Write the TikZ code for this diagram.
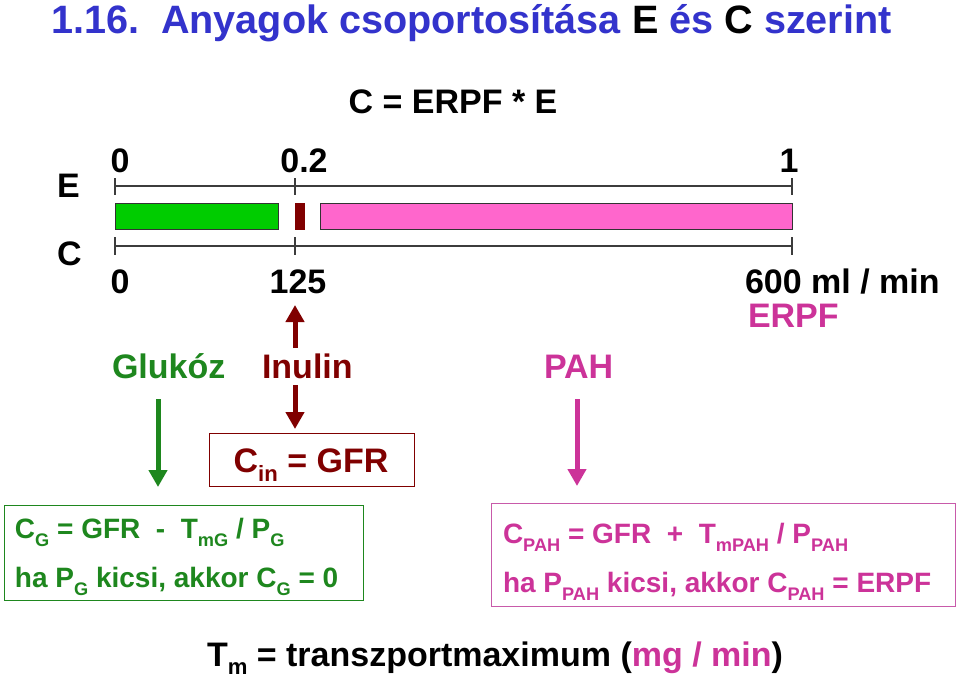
\documentclass[tikz,border=0pt]{standalone}
\usepackage{fontspec}
\setmainfont{Liberation Sans}[BoldFont={Liberation Sans Bold}]
\usetikzlibrary{arrows.meta}
\definecolor{tblue}{RGB}{51,51,204}
\definecolor{gtext}{RGB}{30,135,30}
\definecolor{gbar}{RGB}{0,204,0}
\definecolor{dred}{RGB}{128,0,0}
\definecolor{pbar}{RGB}{255,102,204}
\definecolor{mtext}{RGB}{204,51,153}
\definecolor{mbox}{RGB}{200,90,170}
\definecolor{axisc}{RGB}{60,60,60}
\newcommand{\lo}[1]{\raisebox{-0.55ex}{\scalebox{0.65}{#1}}}
\newcommand{\loo}[1]{\raisebox{-0.45ex}{\scalebox{0.65}{#1}}}
\begin{document}
\begin{tikzpicture}[x=1pt,y=-1pt,
  txt/.style={inner sep=0pt,outer sep=0pt,font=\fontsize{34}{40}\selectfont\bfseries},
  btxt/.style={inner sep=0pt,outer sep=0pt,font=\fontsize{28}{34}\selectfont\bfseries},
  axisln/.style={draw=axisc,line width=1.4pt},
  barst/.style={draw=black!80,line width=0.8pt},
  fatarrow/.style={line width=5pt,-{Triangle[width=18pt,length=17pt]}},
  boxst/.style={inner sep=0pt,minimum width=#1,line width=1.3pt}
]
\useasboundingbox (0,0) rectangle (959,680);
\fill[white] (0,0) rectangle (959,680);

% title
\node[txt,anchor=base west,font=\fontsize{39.6}{44}\selectfont\bfseries,text=tblue] (title) at (51,33)
  {1.16.\ \ Anyagok csoportosítása \textcolor{black}{E} és \textcolor{black}{C} szerint};
\node[txt,anchor=base] (formula) at (453,113) {C = ERPF * E};

% E and C labels
\node[txt,anchor=base west] (elab) at (57,197) {E};
\node[txt,anchor=base west] (clab) at (57,265) {C};

% axes
\coordinate (e0) at (115,186);
\coordinate (e1) at (792,186);
\coordinate (c0) at (115,246);
\coordinate (c1) at (792,246);
\draw[axisln] (e0) -- (e1);
\draw[axisln] (c0) -- (c1);
\foreach \x in {115,295,792}{
  \draw[axisln] (\x,178) -- (\x,195);
  \draw[axisln] (\x,237) -- (\x,255);
}

% bars
\node[barst,fill=gbar,inner sep=0pt,minimum width=163pt,minimum height=26pt,anchor=north west] (gluc) at (115,203) {};
\node[barst,draw=dred,fill=dred,inner sep=0pt,minimum width=9pt,minimum height=26pt,anchor=north west] (inul) at (295,203) {};
\node[barst,fill=pbar,inner sep=0pt,minimum width=472pt,minimum height=26pt,anchor=north west] (pah) at (320,203) {};

% axis numbers
\node[txt,anchor=base] (t0) at (120,172) {0};
\node[txt,anchor=base] (t02) at (304,172) {0.2};
\node[txt,anchor=base] (t1) at (789,172) {1};
\node[txt,anchor=base] (b0) at (120,293) {0};
\node[txt,anchor=base] (b125) at (298,293) {125};
\node[txt,anchor=base west] (b600) at (745,293) {600 ml / min};
\node[txt,anchor=base west,text=mtext] (erpf) at (748,327) {ERPF};

% substance labels
\node[txt,anchor=base west,text=gtext] (glukoz) at (112,378) {Glukóz};
\node[txt,anchor=base west,text=dred] (inulin) at (262,378) {Inulin};
\node[txt,anchor=base west,text=mtext] (pahl) at (544,378) {PAH};

% arrows
\coordinate (iu0) at (295,348);
\coordinate (iu1) at (295,305);
\coordinate (id0) at (295,385);
\coordinate (id1) at (295,429);
\coordinate (g0) at (158,399);
\coordinate (g1) at (158,487);
\coordinate (p0) at (577,399);
\coordinate (p1) at (577,486);
\draw[fatarrow,dred] (iu0) -- (iu1);
\draw[fatarrow,dred] (id0) -- (id1);
\draw[fatarrow,gtext] (g0) -- (g1);
\draw[fatarrow,mtext] (p0) -- (p1);

% Cin box
\node[draw=dred,boxst=205pt,minimum height=53pt,anchor=north west] (cinbox) at (209,433) {};
\node[txt,anchor=base,text=dred] (cin) at (311,472) {C\lo{in} = GFR};

% glucose box
\node[draw=gtext,boxst=359pt,minimum height=95pt,anchor=north west] (gbox) at (4,505) {};
\node[btxt,anchor=base west,text=gtext] (gl1) at (15,538) {C\lo{G} = GFR\ \ -\ \ T\lo{mG} / P\lo{G}};
\node[btxt,anchor=base west,text=gtext] (gl2) at (15,587) {ha P\lo{G} kicsi, akkor C\lo{G} = 0};

% PAH box
\node[draw=mbox,boxst=464pt,minimum height=103pt,anchor=north west] (pbox) at (491,503) {};
\node[btxt,anchor=base west,text=mtext] (pl1) at (503,543) {C\lo{PAH} = GFR\ \ +\ \ T\lo{mPAH} / P\lo{PAH}};
\node[btxt,anchor=base west,text=mtext] (pl2) at (503,592) {ha P\lo{PAH} kicsi, akkor C\lo{PAH} = ERPF};

% bottom
\node[txt,anchor=base west] (tm) at (207,666) {T\loo{m} = transzportmaximum (\textcolor{mtext}{mg / min})};
\end{tikzpicture}
\end{document}
